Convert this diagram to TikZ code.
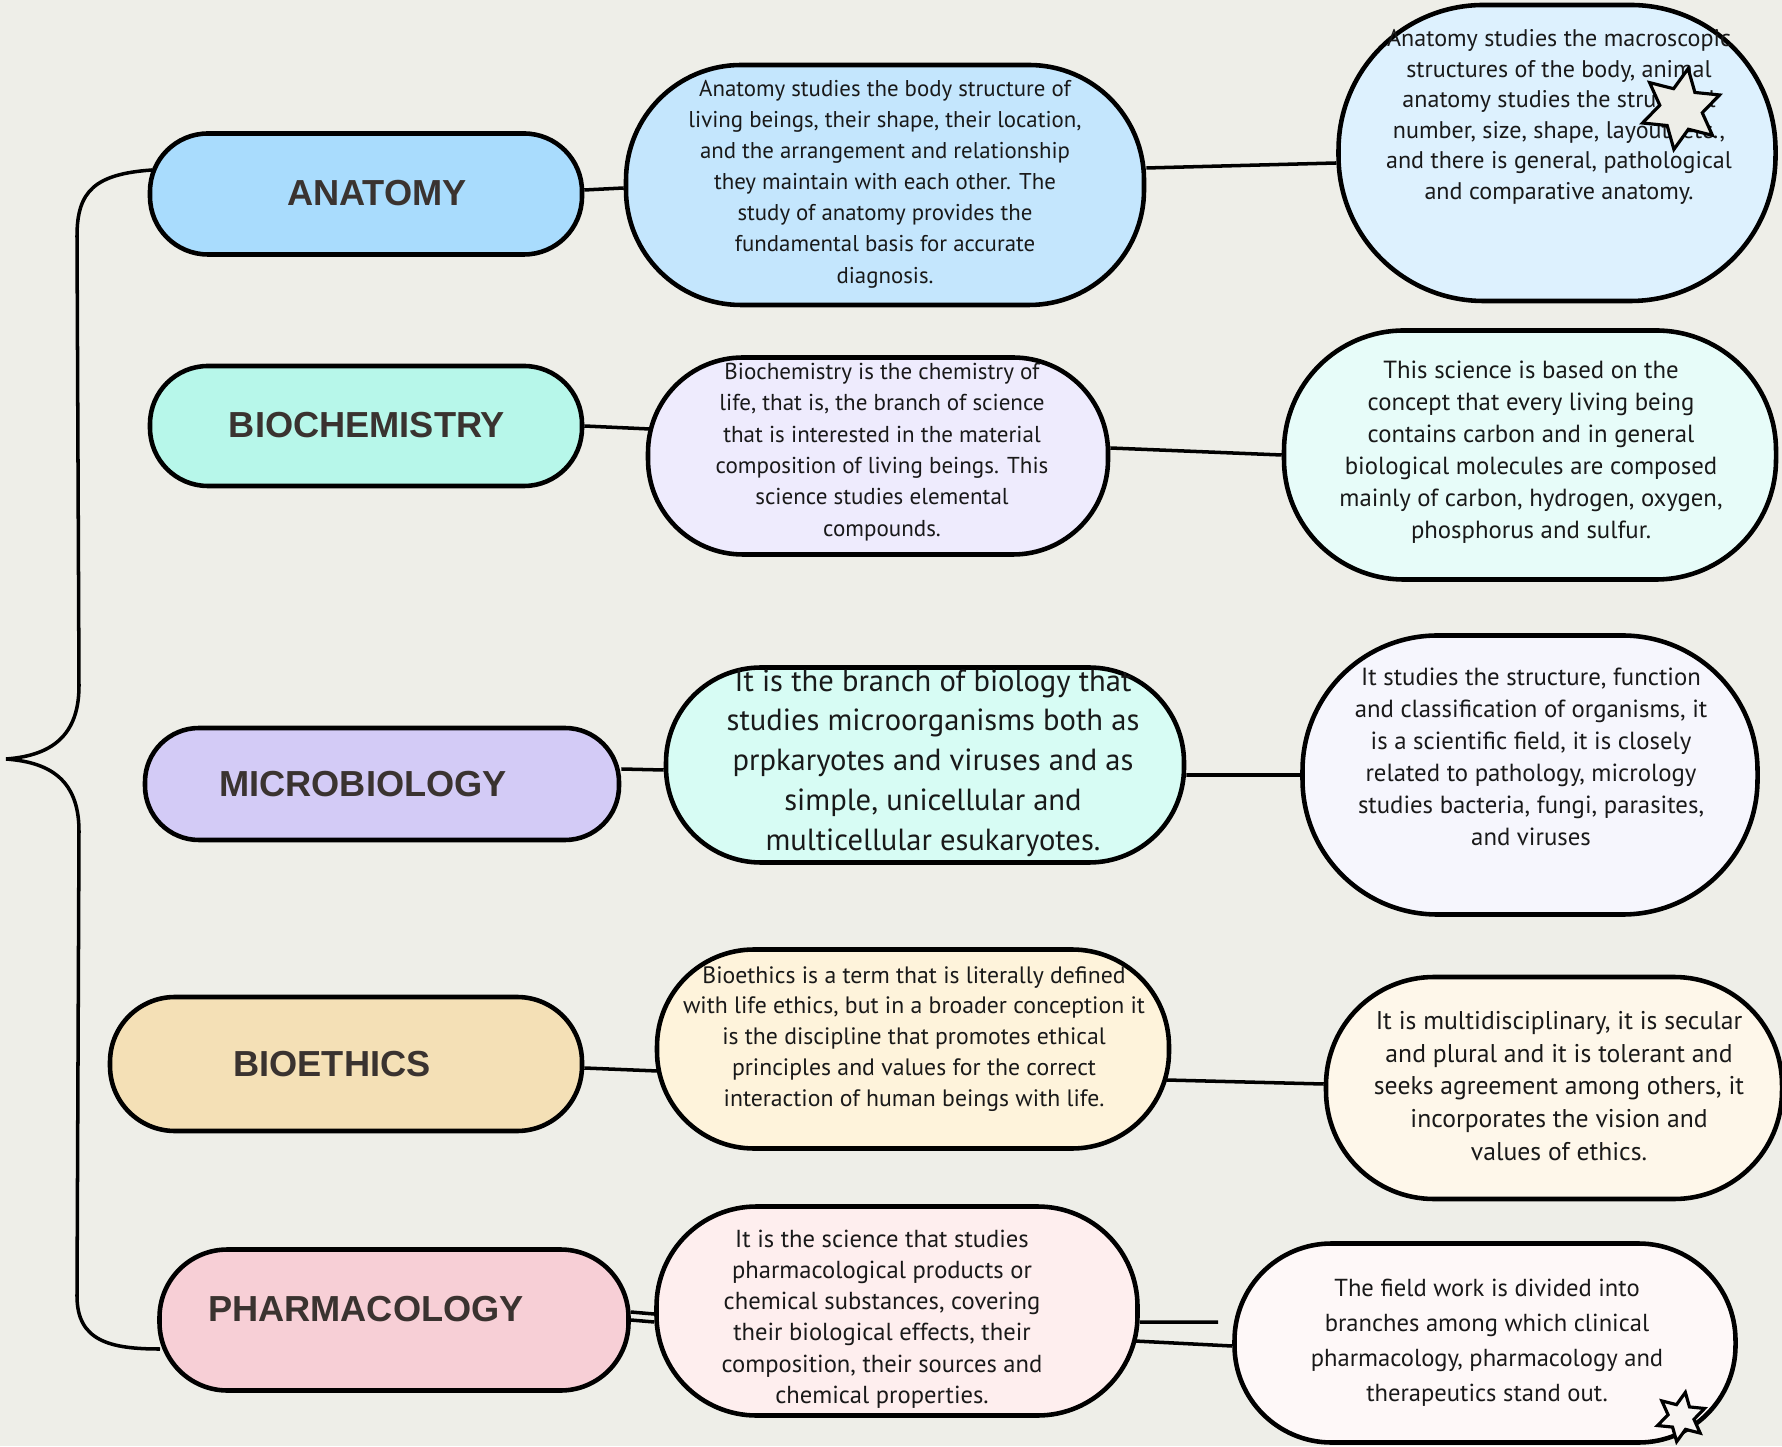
\documentclass[tikz,border=0pt]{standalone}
\usepackage{fontspec}
\setmainfont{PT Sans}
\newfontfamily\titlefont{Liberation Sans}
\usetikzlibrary{shapes.geometric,calc}
\definecolor{bgcol}{HTML}{EEEEE8}
\definecolor{labtext}{HTML}{3A3330}
\definecolor{anatA}{HTML}{A9DCFD}
\definecolor{anatB}{HTML}{C4E6FD}
\definecolor{anatC}{HTML}{DDF1FE}
\definecolor{biocA}{HTML}{B7F7EA}
\definecolor{biocB}{HTML}{EEEBFD}
\definecolor{biocC}{HTML}{E7FCF9}
\definecolor{microA}{HTML}{D3CBF6}
\definecolor{microB}{HTML}{D7FCF4}
\definecolor{microC}{HTML}{F6F6FD}
\definecolor{bioeA}{HTML}{F4E0B6}
\definecolor{bioeB}{HTML}{FEF3DB}
\definecolor{bioeC}{HTML}{FEF7EA}
\definecolor{pharmA}{HTML}{F7CFD6}
\definecolor{pharmB}{HTML}{FEEEEE}
\definecolor{pharmC}{HTML}{FEF8F8}

\begin{document}
\begin{tikzpicture}[
    box/.style={draw=black, line width=1.3pt, inner sep=0pt},
    title/.style={font=\titlefont\bfseries\fontsize{10.3}{12}\selectfont, text=labtext},
    body/.style={align=center, text=black!90, inner sep=0pt},
    link/.style={line width=1pt},
    spark/.style={draw=black, line width=0.9pt, star, star points=6, star point ratio=1.9, inner sep=0pt},
]
% Background
\fill[bgcol] (0,0) rectangle (17.82,14.46);
\useasboundingbox (0,0) rectangle (17.82,14.46);

% Brace
\draw[line width=1pt] (1.52,12.76) .. controls (0.95,12.72) and (0.77,12.55) .. (0.77,12.1)
    -- (0.79,7.6) .. controls (0.79,7.05) and (0.45,6.9) .. (0.06,6.87)
    .. controls (0.45,6.84) and (0.79,6.7) .. (0.79,6.15)
    -- (0.77,1.5) .. controls (0.77,1.05) and (1.1,0.97) .. (1.60,0.97);

% Topics
\node[box, fill=anatA, minimum width=4.32cm, minimum height=1.21cm, rounded corners=0.58cm] (anat) at (3.66,12.52) {};
\node[title] (anatlab) at (3.77,12.53) {ANATOMY};
\node[box, fill=biocA, minimum width=4.32cm, minimum height=1.20cm, rounded corners=0.58cm] (bioc) at (3.66,10.20) {};
\node[title] (bioclab) at (3.67,10.21) {BIOCHEMISTRY};
\node[box, fill=microA, minimum width=4.74cm, minimum height=1.12cm, rounded corners=0.54cm] (micro) at (3.82,6.62) {};
\node[title] (microlab) at (3.63,6.62) {MICROBIOLOGY};
\node[box, fill=bioeA, minimum width=4.72cm, minimum height=1.34cm, rounded corners=0.65cm] (bioe) at (3.46,3.82) {};
\node[title] (bioelab) at (3.32,3.82) {BIOETHICS};
\node[box, fill=pharmA, minimum width=4.69cm, minimum height=1.41cm, rounded corners=0.68cm] (pharm) at (3.94,1.26) {};
\node[title] (pharmlab) at (3.66,1.37) {PHARMACOLOGY};

% Definitions
\node[box, fill=anatB, minimum width=5.18cm, minimum height=2.40cm, rounded corners=1.15cm] (anatM) at (8.85,12.61) {};
\node[body, font=\fontsize{6.5}{8.85}\selectfont] (anatMtxt) at (8.85,12.62) {Anatomy studies the body structure of\\living beings, their shape, their location,\\and the arrangement and relationship\\they maintain with each other. The\\study of anatomy provides the\\fundamental basis for accurate\\diagnosis.};
\node[box, fill=biocB, minimum width=4.60cm, minimum height=1.97cm, rounded corners=0.95cm] (biocM) at (8.78,9.90) {};
\node[body, font=\fontsize{6.55}{8.9}\selectfont] (biocMtxt) at (8.82,9.94) {Biochemistry is the chemistry of\\life, that is, the branch of science\\that is interested in the material\\composition of living beings. This\\science studies elemental\\compounds.};
\node[box, fill=microB, minimum width=5.18cm, minimum height=1.95cm, rounded corners=0.95cm] (microM) at (9.25,6.81) {};
\node[body, font=\fontsize{8.7}{11.3}\selectfont] (microMtxt) at (9.33,6.83) {It is the branch of biology that\\studies microorganisms both as\\prpkaryotes and viruses and as\\simple, unicellular and\\multicellular esukaryotes.};
\node[box, fill=bioeB, minimum width=5.12cm, minimum height=1.99cm, rounded corners=0.97cm] (bioeM) at (9.13,3.97) {};
\node[body, font=\fontsize{6.75}{8.8}\selectfont] (bioeMtxt) at (9.14,4.07) {Bioethics is a term that is literally defined\\with life ethics, but in a broader conception it\\is the discipline that promotes ethical\\principles and values for the correct\\interaction of human beings with life.};
\node[box, fill=pharmB, minimum width=4.81cm, minimum height=2.09cm, rounded corners=1.0cm] (pharmM) at (8.97,1.35) {};
\node[body, font=\fontsize{7.0}{8.9}\selectfont] (pharmMtxt) at (8.82,1.27) {It is the science that studies\\pharmacological products or\\chemical substances, covering\\their biological effects, their\\composition, their sources and\\chemical properties.};

% Details
\node[box, fill=anatC, minimum width=4.37cm, minimum height=2.96cm, rounded corners=1.45cm] (anatR) at (15.57,12.93) {};
\node[body, font=\fontsize{6.85}{8.7}\selectfont] (anatRtxt) at (15.59,13.29) {Anatomy studies the macroscopic\\structures of the body, animal\\anatomy studies the structural\\number, size, shape, layout, etc.,\\and there is general, pathological\\and comparative anatomy.};
\node[box, fill=biocC, minimum width=4.92cm, minimum height=2.49cm, rounded corners=1.2cm] (biocR) at (15.30,9.91) {};
\node[body, font=\fontsize{7.05}{9.1}\selectfont] (biocRtxt) at (15.31,9.94) {This science is based on the\\concept that every living being\\contains carbon and in general\\biological molecules are composed\\mainly of carbon, hydrogen, oxygen,\\phosphorus and sulfur.};
\node[box, fill=microC, minimum width=4.55cm, minimum height=2.79cm, rounded corners=1.35cm] (microR) at (15.30,6.71) {};
\node[body, font=\fontsize{7.05}{9.1}\selectfont] (microRtxt) at (15.31,6.89) {It studies the structure, function\\and classification of organisms, it\\is a scientific field, it is closely\\related to pathology, micrology\\studies bacteria, fungi, parasites,\\and viruses};
\node[box, fill=bioeC, minimum width=4.56cm, minimum height=2.22cm, rounded corners=1.08cm] (bioeR) at (15.54,3.58) {};
\node[body, font=\fontsize{7.3}{9.3}\selectfont] (bioeRtxt) at (15.59,3.60) {It is multidisciplinary, it is secular\\and plural and it is tolerant and\\seeks agreement among others, it\\incorporates the vision and\\values of ethics.};
\node[box, fill=pharmC, minimum width=5.01cm, minimum height=1.99cm, rounded corners=0.97cm] (pharmR) at (14.85,1.03) {};
\node[body, font=\fontsize{7}{10}\selectfont] (pharmRtxt) at (14.87,1.03) {The field work is divided into\\branches among which clinical\\pharmacology, pharmacology and\\therapeutics stand out.};

% Stars
\node[spark, fill=bgcol, minimum size=0.82cm, shape border rotate=-10] (starA) at (16.81,13.37) {};
\node[spark, fill=pharmC!60!bgcol, minimum size=0.5cm, shape border rotate=-10] (starB) at (16.81,0.29) {};

% Links
\draw[link] ([yshift=0.04cm]anat.east) -- ([yshift=-0.03cm]anatM.west);
\draw[link] ([yshift=0.17cm]anatM.east) -- ([yshift=-0.10cm]anatR.west);
\draw[link] (bioc.east) -- ($(biocM.west)+(0.04,0.27)$);
\draw[link] ([yshift=0.08cm]biocM.east) -- (biocR.west);
\draw[link] ([yshift=0.15cm]micro.east) -- ([yshift=-0.05cm]microM.west);
\draw[link] ([yshift=-0.10cm]microM.east) -- (microR.west);
\draw[link] ([yshift=-0.04cm]bioe.east) -- ($(bioeM.west)+(0.03,-0.22)$);
\draw[link] ($(bioeM.east)+(-0.05,-0.31)$) -- ([yshift=0.04cm]bioeR.west);
\draw[link] ([yshift=0.08cm]pharm.east) -- ([yshift=-0.03cm]pharmM.west);
\draw[link] (pharm.east) -- ([yshift=-0.11cm]pharmM.west);
\coordinate (pharmEnd) at (12.18,1.24);
\draw[link] ([yshift=-0.11cm]pharmM.east) -- (pharmEnd);
\draw[link] ($(pharmM.east)+(-0.05,-0.30)$) -- ([yshift=-0.03cm]pharmR.west);
\end{tikzpicture}
\end{document}
